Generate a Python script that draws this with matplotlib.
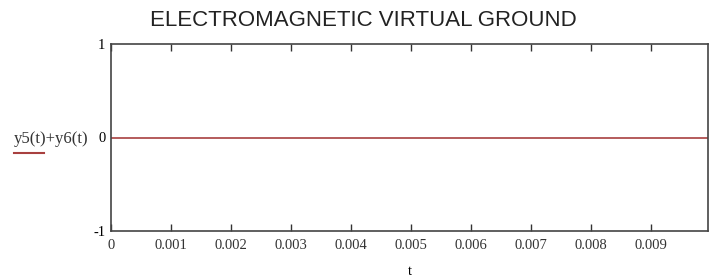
import matplotlib.pyplot as plt
from matplotlib.lines import Line2D

# data
t = [0.0, 0.00995]
y5 = [0.0, 0.0]
y6 = [0.0, 0.0]
xticks = [0, 0.001, 0.002, 0.003, 0.004, 0.005, 0.006, 0.007, 0.008, 0.009]
xtick_labels = ["0", "0.001", "0.002", "0.003", "0.004", "0.005", "0.006", "0.007", "0.008", "0.009"]
yticks = [-1, 0, 1]

line_color = "#a8403f"

fig = plt.figure(figsize=(7.12, 2.79), dpi=100)
ax = fig.add_axes([111 / 712, 1 - 231 / 279, 597 / 712, 187 / 279])

ysum = [a + b for a, b in zip(y5, y6)]
ax.plot(t, ysum, color=line_color, lw=1.2)

ax.set_xlim(0, 0.00995)
ax.set_ylim(-1, 1)
ax.set_xticks(xticks)
ax.set_xticklabels(xtick_labels, family="Liberation Serif", fontsize=10.5)
ax.set_yticks(yticks)
ax.set_yticklabels(["-1", "0", "1"], family="Liberation Serif", fontsize=10.5)
ax.tick_params(axis="x", direction="in", length=5, top=True, width=1, colors="#333333", pad=6)
ax.tick_params(axis="y", length=0, pad=4)
for lbl in ax.get_xticklabels():
    lbl.set_color("#333333")

for s in ax.spines.values():
    s.set_color("#444444")
    s.set_linewidth(1.2)

ax.set_xlabel("t", family="Liberation Serif", fontsize=10.5, labelpad=9)
fig.text(14 / 712, 1 - 139 / 279, "y5(t)+y6(t)", family="Liberation Serif",
         fontsize=12, va="center", ha="left", color="#333333")
fig.add_artist(Line2D([14 / 712, 44 / 712], [1 - 153 / 279, 1 - 153 / 279], color=line_color, lw=1.5))

fig.text(363 / 712, 1 - 20 / 279, "ELECTROMAGNETIC VIRTUAL GROUND", family="Liberation Sans",
         fontsize=16, ha="center", va="center", color="#222222")

fig.savefig("out.png", dpi=100)
